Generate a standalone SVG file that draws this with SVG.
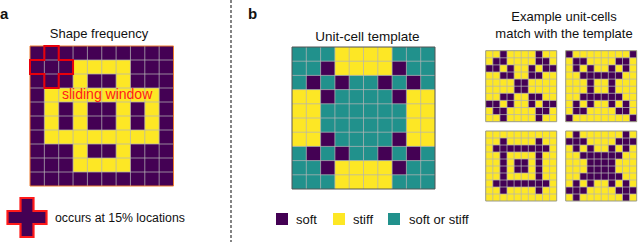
<svg xmlns="http://www.w3.org/2000/svg" xmlns:xlink="http://www.w3.org/1999/xlink" width="640" height="242" viewBox="0 0 640 242">
<style>
text{font-family:"Liberation Sans",Arial,sans-serif;fill:#111}
.lbl{font-weight:bold;font-size:15px}
.ttl{font-size:13.5px;text-anchor:middle}
.P{fill:#440154}.Y{fill:#fde725}.T{fill:#21918c}
.gl{fill:none;stroke:#b4b4b4;stroke-opacity:.75;stroke-width:1}
.bd{fill:none;stroke-width:1}
</style>
<defs>
<path id="gl" class="gl" vector-effect="non-scaling-stroke" d="M1 0V10M2 0V10M3 0V10M4 0V10M5 0V10M6 0V10M7 0V10M8 0V10M9 0V10M0 1H10M0 2H10M0 3H10M0 4H10M0 5H10M0 6H10M0 7H10M0 8H10M0 9H10"/>
</defs>
<rect width="640" height="242" fill="#fff"/>

<g id="panel-a-label"><text class="lbl" x="0" y="19">a</text></g>
<g id="panel-b-label"><text class="lbl" x="248" y="19">b</text></g>

<g id="connectors">
<line x1="231" y1="0" x2="231" y2="242" stroke="#333" stroke-width="1.2" stroke-dasharray="3,2"/>
</g>

<g id="shape-frequency">
<text class="ttl" x="99" y="38" style="font-size:13px">Shape frequency</text>
<g transform="translate(30,46) scale(14.35,14)">
<rect class="P" width="10" height="10"/>
<path class="Y" d="M3 1h4v1h-4zM3 2h1v1h-1zM6 2h1v1h-1zM1 3h8v1h-8zM1 4h1v2h-1zM3 4h1v2h-1zM6 4h1v2h-1zM8 4h1v2h-1zM1 6h8v1h-8zM3 7h1v1h-1zM6 7h1v1h-1zM3 8h4v1h-4z"/>
<use xlink:href="#gl"/>
<rect width="10" height="10" class="bd" stroke="#ed7d31" stroke-width="1.3" vector-effect="non-scaling-stroke"/>
<path d="M1 0H2V1H3V2H2V3H1V2H0V1H1Z" fill="none" stroke="#e8000b" stroke-width="2" vector-effect="non-scaling-stroke"/>
</g>
<text x="62" y="99" style="font-size:14px;fill:#ff1a1a">sliding window</text>
</g>

<g id="cross-legend">
<path d="M20.5 198H33.5V211H46.5V224H33.5V237H20.5V224H7.5V211H20.5Z" class="P" stroke="#ff1a1a" stroke-width="2.2"/>
<text x="55" y="222" style="font-size:12.3px">occurs at 15% locations</text>
</g>

<g id="unit-cell-template">
<text class="ttl" x="367.5" y="41">Unit-cell template</text>
<g transform="translate(292,47) scale(14.3,14.2)">
<rect class="T" width="10" height="10"/>
<path class="Y" d="M3 0h4v2h-4zM3 8h4v2h-4zM0 3h2v4h-2zM8 3h2v4h-2z"/>
<path class="P" d="M2 1h1v1h-1zM7 1h1v1h-1zM1 2h1v1h-1zM3 2h1v1h-1zM6 2h1v1h-1zM8 2h1v1h-1zM2 3h1v1h-1zM7 3h1v1h-1zM2 6h1v1h-1zM7 6h1v1h-1zM1 7h1v1h-1zM3 7h1v1h-1zM6 7h1v1h-1zM8 7h1v1h-1zM2 8h1v1h-1zM7 8h1v1h-1z"/>
<use xlink:href="#gl"/>
<rect width="10" height="10" class="bd" stroke="#555" vector-effect="non-scaling-stroke"/>
</g>
</g>

<g id="examples-title">
<text class="ttl" x="564" y="21" style="font-size:13px">Example unit-cells</text>
<text class="ttl" x="564" y="38" style="font-size:13px">match with the template</text>
</g>

<g id="example-1">
<g transform="translate(485.7,50.7) scale(7.1,7.1)">
<rect class="Y" width="10" height="10"/>
<path class="P" d="M2 0h1v1h-1zM7 0h1v1h-1zM1 1h2v1h-2zM7 1h2v1h-2zM0 2h2v1h-2zM3 2h1v1h-1zM6 2h1v1h-1zM8 2h2v1h-2zM2 3h2v1h-2zM6 3h2v1h-2zM4 4h2v2h-2zM2 6h2v1h-2zM6 6h2v1h-2zM0 7h2v1h-2zM3 7h1v1h-1zM6 7h1v1h-1zM8 7h2v1h-2zM1 8h2v1h-2zM7 8h2v1h-2zM2 9h1v1h-1zM7 9h1v1h-1z"/>
<use xlink:href="#gl"/>
<rect width="10" height="10" class="bd" stroke="#9a9a88" vector-effect="non-scaling-stroke"/>
</g>
</g>

<g id="example-2">
<g transform="translate(565.7,50.7) scale(7.1,7.1)">
<rect class="Y" width="10" height="10"/>
<path class="P" d="M0 0h1v1h-1zM9 0h1v1h-1zM1 1h2v1h-2zM7 1h2v1h-2zM1 2h1v1h-1zM3 2h1v1h-1zM6 2h1v1h-1zM8 2h1v1h-1zM2 3h6v1h-6zM3 4h1v2h-1zM6 4h1v2h-1zM2 6h6v1h-6zM1 7h1v1h-1zM3 7h1v1h-1zM6 7h1v1h-1zM8 7h1v1h-1zM1 8h2v1h-2zM7 8h2v1h-2zM0 9h1v1h-1zM9 9h1v1h-1z"/>
<use xlink:href="#gl"/>
<rect width="10" height="10" class="bd" stroke="#9a9a88" vector-effect="non-scaling-stroke"/>
</g>
</g>

<g id="example-3">
<g transform="translate(485.7,131) scale(7.1,7)">
<rect class="Y" width="10" height="10"/>
<path class="P" d="M2 1h1v1h-1zM7 1h1v1h-1zM1 2h8v1h-8zM2 3h1v4h-1zM7 3h1v4h-1zM4 4h2v2h-2zM1 7h8v1h-8zM2 8h1v1h-1zM7 8h1v1h-1z"/>
<use xlink:href="#gl"/>
<rect width="10" height="10" class="bd" stroke="#9a9a88" vector-effect="non-scaling-stroke"/>
</g>
</g>

<g id="example-4">
<g transform="translate(565.7,131) scale(7.1,7)">
<rect class="Y" width="10" height="10"/>
<path class="P" d="M1 0h1v1h-1zM8 0h1v1h-1zM0 1h3v1h-3zM7 1h3v1h-3zM1 2h1v1h-1zM3 2h1v1h-1zM6 2h1v1h-1zM8 2h1v1h-1zM2 3h6v1h-6zM3 4h4v2h-4zM2 6h6v1h-6zM1 7h1v1h-1zM3 7h1v1h-1zM6 7h1v1h-1zM8 7h1v1h-1zM0 8h3v1h-3zM7 8h3v1h-3zM1 9h1v1h-1zM8 9h1v1h-1z"/>
<use xlink:href="#gl"/>
<rect width="10" height="10" class="bd" stroke="#9a9a88" vector-effect="non-scaling-stroke"/>
</g>
</g>

<g id="legend">
<rect class="P" x="276" y="213" width="12" height="12"/>
<text x="296" y="224" style="font-size:13px">soft</text>
<rect class="Y" x="333" y="213" width="12" height="12"/>
<text x="353" y="224" style="font-size:13px">stiff</text>
<rect class="T" x="388" y="213" width="12" height="12"/>
<text x="409" y="224" style="font-size:13px">soft or stiff</text>
</g>
</svg>
